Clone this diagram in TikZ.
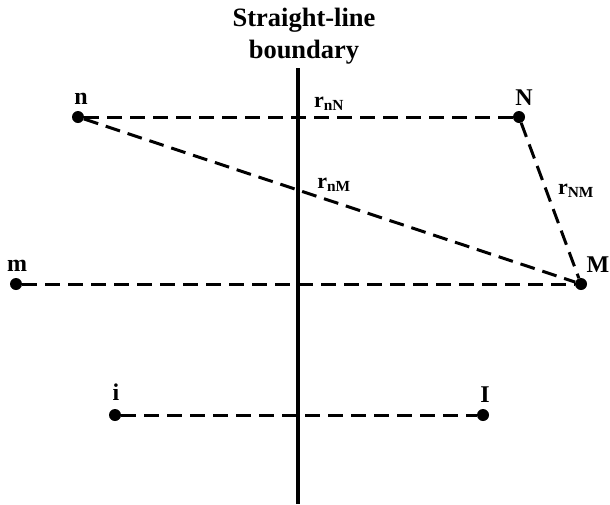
\documentclass[tikz,border=0pt]{standalone}
\usepackage{fontspec}
\setmainfont{Liberation Serif}
\begin{document}
\begin{tikzpicture}[x=1pt,y=-1pt,
  pt/.style={circle,fill=black,inner sep=0pt,minimum size=12pt},
  lbl/.style={font=\fontsize{24}{26}\selectfont\bfseries,inner sep=0pt},
  rl/.style={font=\fontsize{22}{24}\selectfont\bfseries,inner sep=0pt},
  dl/.style={line width=3pt,dash pattern=on 15pt off 8pt},
  bnd/.style={line width=4pt}]
\useasboundingbox (0,0) rectangle (610,504);
\node[font=\fontsize{26.5}{32}\selectfont\bfseries,align=center,inner sep=0pt] (title) at (304,36) {Straight-line\\boundary};
\coordinate (btop) at (298,68);
\coordinate (bbot) at (298,504);
\draw[bnd] (btop) -- (bbot);
\node[pt] (n) at (78,117) {};
\node[pt] (N) at (519,117) {};
\node[pt] (m) at (16,284) {};
\node[pt] (M) at (581,284) {};
\node[pt] (i) at (115,415) {};
\node[pt] (I) at (483,415) {};
\draw[dl] (n) -- (N);
\draw[dl] (n) -- (M);
\draw[dl] (N) -- (M);
\draw[dl] (m) -- (M);
\draw[dl] (i) -- (I);
\node[lbl] (ln) at (81,99) {n};
\node[lbl] (lN) at (524,98) {N};
\node[lbl] (lm) at (17,266) {m};
\node[lbl] (lM) at (598,265) {M};
\node[lbl] (li) at (116,392) {i};
\node[lbl] (lI) at (485,395) {I};
\node[rl] (rnN) at (329,104) {r\textsubscript{nN}};
\node[rl] (rnM) at (334,185) {r\textsubscript{nM}};
\node[rl] (rNM) at (576,191) {r\textsubscript{NM}};
\end{tikzpicture}
\end{document}
